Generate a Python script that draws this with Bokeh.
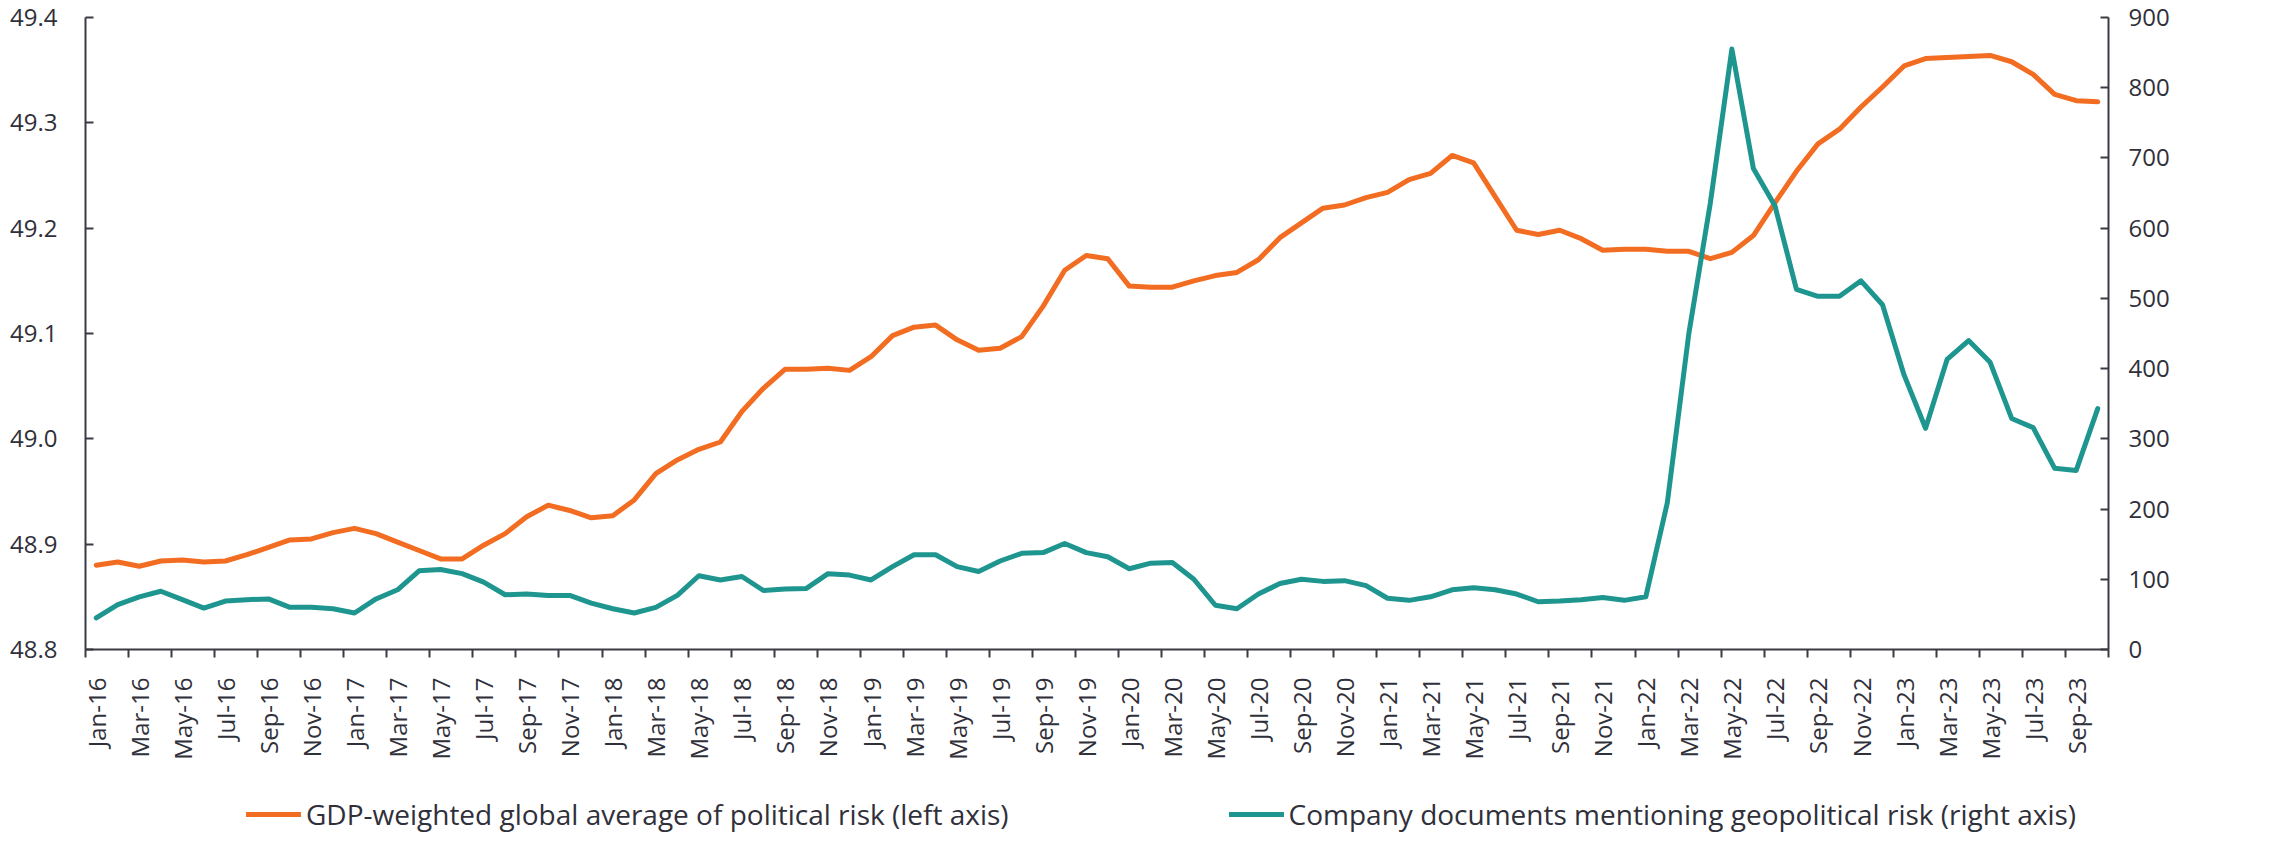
import math
from bokeh.plotting import figure
from bokeh.layouts import column
from bokeh.models import Range1d, LinearAxis, FixedTicker, Legend, LegendItem, ColumnDataSource
from bokeh.embed import file_html
from bokeh.resources import INLINE

# ---- data ----
month_abbr = ["Jan", "Feb", "Mar", "Apr", "May", "Jun", "Jul", "Aug", "Sep", "Oct", "Nov", "Dec"]
years = ["16", "17", "18", "19", "20", "21", "22", "23"]
months = [f"{m}-{y}" for y in years for m in month_abbr][:94]  # Jan-16 .. Oct-23

political_risk = [
    48.880, 48.883, 48.879, 48.884, 48.885, 48.883, 48.884, 48.890, 48.897, 48.904,
    48.905, 48.911, 48.915, 48.910, 48.902, 48.894, 48.886, 48.886, 48.899, 48.910,
    48.926, 48.937, 48.932, 48.925, 48.927, 48.942, 48.967, 48.980, 48.990, 48.997,
    49.026, 49.048, 49.066, 49.066, 49.067, 49.065, 49.078, 49.098, 49.106, 49.108,
    49.094, 49.084, 49.086, 49.097, 49.126, 49.160, 49.174, 49.171, 49.145, 49.144,
    49.144, 49.150, 49.155, 49.158, 49.170, 49.191, 49.205, 49.219, 49.222, 49.229,
    49.234, 49.246, 49.252, 49.269, 49.262, 49.230, 49.198, 49.194, 49.198, 49.190,
    49.179, 49.180, 49.180, 49.178, 49.178, 49.171, 49.177, 49.193, 49.224, 49.254,
    49.280, 49.294, 49.315, 49.334, 49.354, 49.361, 49.362, 49.363, 49.364, 49.358,
    49.346, 49.327, 49.321, 49.320,
]

company_docs = [
    45, 64, 75, 83, 71, 59, 69, 71, 72, 60,
    60, 58, 52, 72, 85, 112, 114, 108, 96, 78,
    79, 77, 77, 66, 58, 52, 60, 77, 105, 99,
    104, 84, 86, 87, 108, 106, 99, 118, 135, 135,
    118, 111, 126, 137, 138, 151, 138, 132, 115, 123,
    124, 100, 63, 58, 79, 94, 100, 97, 98, 91,
    73, 70, 75, 85, 88, 85, 79, 68, 69, 71,
    74, 70, 75, 209, 450, 636, 855, 685, 632, 513,
    503, 503, 525, 491, 391, 315, 413, 440, 409, 329,
    316, 258, 255, 343,
]

left_ticks = [48.8, 48.9, 49.0, 49.1, 49.2, 49.3, 49.4]
left_tick_labels = ["48.8", "48.9", "49.0", "49.1", "49.2", "49.3", "49.4"]
right_ticks = [0, 100, 200, 300, 400, 500, 600, 700, 800, 900]

label_left = "GDP-weighted global average of political risk (left axis)"
label_right = "Company documents mentioning geopolitical risk (right axis)"

# ---- style ----
ORANGE = "#F26D21"
TEAL = "#1E968F"
AXIS = "#3A3A44"
TEXT = "#30303A"
FONT = "Open Sans"

idx = list(range(len(months)))
src = ColumnDataSource(dict(x=idx, pr=political_risk, cd=company_docs))

p = figure(
    frame_width=2023, frame_height=632,
    min_border_left=85, min_border_right=153, min_border_top=17, min_border_bottom=120,
    x_range=Range1d(-0.5, len(months) - 0.5),
    y_range=Range1d(48.8, 49.4),
    output_backend="svg", toolbar_location=None,
)
p.extra_y_ranges = {"right": Range1d(0, 900)}
p.xgrid.visible = False
p.ygrid.visible = False
p.outline_line_color = None
p.background_fill_color = "white"
p.border_fill_color = "white"

# x axis: labels at category centres, tick marks between category pairs
xa = p.xaxis[0]
xa.ticker = FixedTicker(ticks=idx[::2], minor_ticks=[i - 0.5 for i in range(0, len(months) + 1, 2)])
xa.major_label_overrides = {i: months[i] for i in idx[::2]}
xa.major_label_orientation = math.pi / 2
xa.major_tick_out = 0
xa.major_tick_in = 0
xa.minor_tick_out = 8
xa.minor_tick_in = 0
xa.minor_tick_line_color = AXIS
xa.minor_tick_line_width = 2
xa.axis_line_color = AXIS
xa.axis_line_width = 2
xa.major_label_standoff = 20
xa.major_label_text_font = FONT
xa.major_label_text_font_size = "24px"
xa.major_label_text_color = TEXT

ya = p.yaxis[0]
ya.ticker = FixedTicker(ticks=left_ticks)
ya.major_label_overrides = dict(zip(left_ticks, left_tick_labels))
ya.major_tick_in = 8
ya.major_tick_out = 0
ya.minor_tick_line_color = None
ya.axis_line_color = AXIS
ya.axis_line_width = 2
ya.major_tick_line_color = AXIS
ya.major_tick_line_width = 2
ya.major_label_standoff = 28
ya.major_label_text_font = FONT
ya.major_label_text_font_size = "24px"
ya.major_label_text_color = TEXT

ra = LinearAxis(y_range_name="right", ticker=FixedTicker(ticks=right_ticks))
ra.major_tick_in = 8
ra.major_tick_out = 0
ra.minor_tick_line_color = None
ra.axis_line_color = AXIS
ra.axis_line_width = 2
ra.major_tick_line_color = AXIS
ra.major_tick_line_width = 2
ra.major_label_standoff = 20
ra.major_label_text_font = FONT
ra.major_label_text_font_size = "24px"
ra.major_label_text_color = TEXT
p.add_layout(ra, "right")

p.line("x", "pr", source=src, line_color=ORANGE, line_width=5, line_join="round", line_cap="round")
p.line("x", "cd", source=src, y_range_name="right", line_color=TEAL, line_width=5,
       line_join="round", line_cap="round")

# ---- legend strip (separate figure below the chart) ----
# the series are drawn here only as legend keys; the strip's ranges keep them out of view
lf = figure(
    frame_width=2261, frame_height=64, min_border=0,
    x_range=Range1d(0, 1), y_range=Range1d(0, 1),
    x_axis_type=None, y_axis_type=None,
    output_backend="svg", toolbar_location=None,
)
lf.xgrid.visible = False
lf.ygrid.visible = False
lf.outline_line_color = None
lf.background_fill_color = "white"
lf.border_fill_color = "white"
g1 = lf.line("x", "pr", source=src, line_color=ORANGE, line_width=5, line_cap="round")
g2 = lf.line("x", "cd", source=src, line_color=TEAL, line_width=5, line_cap="round")

legend = Legend(
    items=[LegendItem(label=label_left, renderers=[g1]), LegendItem(label=label_right, renderers=[g2])],
    location=(246, 0), orientation="horizontal", spacing=220,
    glyph_width=55, glyph_height=20, label_standoff=5,
    padding=0, margin=0, border_line_color=None, background_fill_alpha=0,
    label_text_font=FONT, label_text_font_size="28px", label_text_color=TEXT,
)
lf.add_layout(legend, "center")

layout = column(p, lf, spacing=0)
open("out.html", "w").write(file_html(layout, INLINE))
